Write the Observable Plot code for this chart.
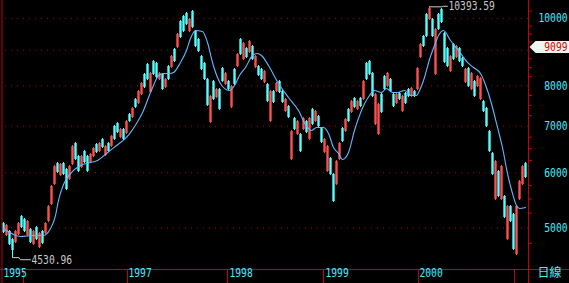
<!DOCTYPE html>
<html><head><meta charset="utf-8">
<script src="https://cdn.jsdelivr.net/npm/d3@7"></script>
<script src="https://cdn.jsdelivr.net/npm/@observablehq/plot@0.6"></script>
<style>html,body{margin:0;padding:0;background:#000;overflow:hidden}#chart svg{display:block}</style>
</head><body><div id="chart"></div>
<script>
// Daily candles (sampled), Taiwan index, log price scale
const highs = [5089,5056,4956,4826,4956,5089,5208,5157,5123,4989,
4956,5022,4923,4956,5089,5384,5752,6146,6208,6187,
6208,6085,6146,6567,6633,6353,6353,6459,6353,6395,
6524,6611,6633,6722,6567,6633,6788,7017,7086,6948,
6948,7134,7301,7448,7673,7879,8091,8335,8616,8363,
8702,8645,8363,8335,8198,8559,8847,9055,9515,9934,
10100,10201,10000,10268,9610,9359,8847,8645,8198,7749,
8144,7931,7931,8502,8363,8144,8010,8474,8906,9359,
9236,9085,9298,9145,8847,8559,8474,8418,8064,7879,
7879,8091,8144,7879,7673,7497,6901,7205,7134,6833,
7205,7134,7205,7424,7374,7253,6971,6722,6567,6311,
5985,6249,6633,6971,7181,7424,7622,7698,7622,7698,
8144,8645,8702,8363,7801,7547,7801,8280,8363,8198,
7801,7801,7827,7749,7827,7931,7958,7879,8502,9205,
9453,10167,10393.59,10000,9674,10167,10337,9547,9085,8847,
9205,9145,9085,8789,8474,8502,8363,8144,8280,8225,
7622,7448,6901,6417,6249,6045,6146,5565,5384,5384,
5243,5384,5849,6146,6208];
const lows = [4907,4859,4716,4530.96,4747,4875,4989,4923,4859,4747,
4716,4795,4670,4732,4891,5089,5384,5752,5985,5926,
5946,5658,5849,6146,6249,6005,6085,6187,6005,6187,
6311,6395,6417,6502,6332,6417,6524,6677,6833,6722,
6677,6811,7086,7181,7424,7522,7749,7931,8144,7801,
8280,8198,8144,7879,7931,8144,8474,8645,9055,9359,
9547,9771,9547,9674,9085,8935,8418,8144,7473,7063,
7622,7673,7374,8091,8010,7879,7424,8010,8502,8847,
8702,8760,8906,8702,8474,8253,8144,8064,7572,7086,
7547,7827,7801,7547,7326,7181,6249,6901,6788,6417,
6901,6833,6677,7017,7086,6971,6611,6395,6005,5946,
5437,5752,6249,6633,6856,7086,7301,7424,7374,7448,
7622,8144,8280,7698,7017,6788,7301,7879,7958,7827,
7448,7522,7622,7326,7522,7698,7698,7698,7879,8760,
9085,9390,9934,9390,8280,9610,9836,8616,8502,8363,
8702,8760,8645,8502,8064,7958,7879,7698,7958,7622,
7326,6971,6417,5946,5474,5528,5474,5157,4795,5089,
4639,4562,5474,5752,5887];
const opens = [5072,4875,4940,4810,4763,4891,5191,5140,4875,4972,
4732,5005,4685,4940,4907,5106,5401,5771,6187,5946,
6187,6065,5868,6167,6611,6332,6105,6438,6332,6208,
6332,6589,6438,6700,6353,6611,6545,6994,7063,6744,
6924,6833,7277,7205,7648,7547,7775,8308,8588,7827,
8673,8616,8171,8308,7958,8530,8502,9025,9085,9901,
10067,10167,9578,10234,9578,9328,8818,8616,8171,7086,
8118,7698,7905,8474,8037,8118,7448,8446,8530,9328,
8731,9055,8935,9115,8502,8530,8446,8091,8037,7110,
7853,7853,8118,7853,7350,7473,6270,7181,6811,6811,
6924,7110,6700,7399,7110,7229,6948,6417,6025,6290,
5966,5771,6270,6948,6878,7399,7326,7673,7399,7673,
7648,8616,8673,8335,7040,6811,7775,8253,7984,8171,
7775,7547,7801,7350,7801,7905,7723,7853,7905,8789,
9421,10134,9967,9967,8308,10134,10302,9515,9055,8390,
9175,8789,9055,8760,8091,8474,7905,8118,7984,7648,
7597,7424,6878,6395,5492,6025,5492,5547,4810,5366,
5225,4578,5492,5771,6187];
const closes = [4923,5039,4732,4639,4940,5072,5005,4940,5106,4763,
4940,4810,4907,4747,5072,5366,5733,6126,6005,6167,
5966,5677,6126,6545,6270,6025,6332,6208,6025,6374,
6502,6417,6611,6524,6545,6438,6766,6700,6856,6924,
6700,7110,7110,7424,7448,7853,8064,7958,8171,8335,
8308,8225,8335,7905,8171,8171,8818,8673,9484,9390,
9578,9803,9967,9706,9115,8964,8446,8171,7497,7723,
7648,7905,7399,8118,8335,7905,7984,8037,8876,8876,
9205,8789,9267,8731,8818,8280,8171,8390,7597,7853,
7572,8064,7827,7572,7648,7205,6878,6924,7110,6438,
7181,6856,7181,7040,7350,6994,6633,6700,6545,5966,
5456,6229,6611,6655,7157,7110,7597,7448,7597,7473,
8118,8171,8308,7723,7775,7522,7326,7905,8335,7853,
7473,7775,7648,7723,7547,7723,7931,7723,8474,9175,
9115,9421,10336,9421,9642,9642,9868,8645,8530,8818,
8731,9115,8673,8530,8446,7984,8335,7723,8253,8198,
7350,6994,6438,5966,6229,5547,6126,5174,5366,5106,
4655,5366,5830,6126,5907];

// moving-average line (position in candle units, value)
const maPos = [0,5.67,10,13.33,15.67,17.33,18.33,20,22.33,25.67,29,31.33,34.33,37.67,41,44.33,46.67,48.33,50,51.67,53.33,55.33,56.67,59,61,62.33,64,66.33,68,69.67,71.33,73,75.33,77,78.67,80.67,83,84.67,86.33,88.33,91.67,95,98.33,100.67,102.67,104.33,106.67,108.33,110,111.67,113,115,117,119.33,122,123.67,126,127.67,129.67,131.33,133.67,136,137.67,138.67,140.33,142,143.67,145,146.67,149,151.67,154.67,156.67,159,161.33,163,164.67,166.33,168,169.67,171,172,174];
const maVal = [4989,4859,4875,4875,4989,5208,5474,5771,5985,6146,6208,6249,6395,6567,6744,7063,7374,7698,8010,8280,8335,8335,8363,8645,8994,9359,9610,9578,9236,8645,8225,7984,7879,8010,8280,8502,8847,8906,8818,8559,8064,7698,7374,7040,6901,6971,6971,6833,6524,6395,6270,6417,6901,7374,7749,7879,7827,7931,7827,7827,7879,7749,7749,7879,8225,8731,9145,9453,9610,9298,8994,8645,8502,8335,7879,7448,6971,6524,5985,5602,5384,5331,5349];

const gridLevels = [5000,6000,7000,8000,9000,10000];
const priceLabels = [5000,6000,7000,8000,10000];
const minorTicks = [4750,5250,5500,5750,6250,6500,6750,7250,7500,7750,8250,8500,8750,9250,9500,9750,10250];
const yearSeps = [6.67,41.33,74.67,106.67,138.33,170.33];
const yearLabels = ["1995","1997","1998","1999","2000"];
const yearLabelPos = [0,41.67,75.33,107.33,138.67];
const lastPrice = 9099;
const maxVal = 10393.59, maxIdx = 142;
const minVal = 4530.96, minIdx = 3;
const periodLabel = "日線";

const candles = highs.map((h,i)=>({i, high:h, low:lows[i], open:opens[i], close:closes[i]}));
const up = candles.filter(d=>d.close>=d.open);
const down = candles.filter(d=>d.close<d.open);

const RED="#ff4f4f", CYAN="#55ffff", AX="#c80000", LBL="#44eeff";
const FONT="DejaVu Sans Mono";

const maxPts = [[maxIdx,maxVal],[146,maxVal],[146.67,maxVal*1.002],[148,maxVal*1.002]];
const minPts = [[minIdx,minVal],[5.2,minVal],[5.6,minVal*0.993],[9,minVal*0.993]];
const boxPts = [[175.33,lastPrice],[177.33,lastPrice*1.02],[189,lastPrice*1.02],[189,lastPrice/1.02],[177.33,lastPrice/1.02],[175.33,lastPrice]];

const chart = Plot.plot({
  width:569, height:283,
  marginLeft:2, marginRight:41, marginTop:0, marginBottom:14,
  style:{background:"#000", overflow:"visible"},
  x:{domain:[-1/3,175], axis:null},
  y:{type:"log", domain:[4356,10614], axis:null},
  marks:[
    Plot.ruleY(gridLevels,{stroke:"#b40000", strokeDasharray:"1,5", insetLeft:3}),
    Plot.ruleX(up,{x:"i", y1:"low", y2:"high", stroke:RED, strokeWidth:1}),
    Plot.ruleX(down,{x:"i", y1:"low", y2:"high", stroke:CYAN, strokeWidth:1}),
    Plot.ruleX(up,{x:"i", y1:"open", y2:"close", stroke:RED, strokeWidth:2.4}),
    Plot.ruleX(down,{x:"i", y1:"open", y2:"close", stroke:CYAN, strokeWidth:2.4}),
    Plot.line(maPos.map((p,k)=>[p,maVal[k]]),{stroke:"#66b8ff", strokeWidth:1.1, curve:"monotone-x"}),
    Plot.line(maxPts,{stroke:"#c8c8c8", strokeWidth:1}),
    Plot.text([maxVal],{x:148.33, y:maxVal*1.002, text:d=>d.toFixed(2), textAnchor:"start", fill:"#c8c8c8", fontSize:12, fontFamily:FONT}),
    Plot.line(minPts,{stroke:"#c8c8c8", strokeWidth:1}),
    Plot.text([minVal],{x:9.33, y:minVal*0.993, text:d=>d.toFixed(2), textAnchor:"start", fill:"#c8c8c8", fontSize:12.5, fontFamily:FONT}),
    // axes
    Plot.ruleX([175],{stroke:AX, insetBottom:-14}),
    Plot.ruleX([-0.5],{stroke:AX, insetBottom:-14}),
    Plot.ruleY([4356],{stroke:AX, insetLeft:-2, insetRight:-41}),
    Plot.axisX(yearSeps,{anchor:"bottom", tickSize:14, tickFormat:()=>"", stroke:AX, label:null}),
    Plot.axisY(minorTicks,{anchor:"right", tickSize:3, tickFormat:()=>"", stroke:AX, label:null}),
    Plot.text(priceLabels,{y:d=>d, text:d=>String(d), frameAnchor:"right", dx:39, textAnchor:"end", fill:LBL, fontSize:12.5, fontFamily:FONT}),
    Plot.text(yearLabels,{x:(d,k)=>yearLabelPos[k], text:d=>d, frameAnchor:"bottom", dy:7, textAnchor:"start", fill:LBL, fontSize:12.5, fontFamily:FONT}),
    Plot.text([periodLabel],{text:d=>d, frameAnchor:"bottom-right", dx:21, dy:7, textAnchor:"middle", fill:LBL, fontSize:12, fontFamily:"Noto Sans CJK TC"}),
    // last price marker
    Plot.line(boxPts,{stroke:"none", fill:"#eef5ee"}),
    Plot.text([lastPrice],{y:d=>d, text:d=>String(d), frameAnchor:"right", dx:39, textAnchor:"end", fill:"#e00000", fontSize:12.5, fontFamily:FONT})
  ]
});
document.getElementById("chart").appendChild(chart);
d3.select(chart).selectAll("text").each(function(){
  const t=this.textContent;
  if(/^[0-9.]+$/.test(t)){
    this.setAttribute("textLength", (t.length*5.8).toFixed(1));
    this.setAttribute("lengthAdjust","spacingAndGlyphs");
  }
});
</script></body></html>
